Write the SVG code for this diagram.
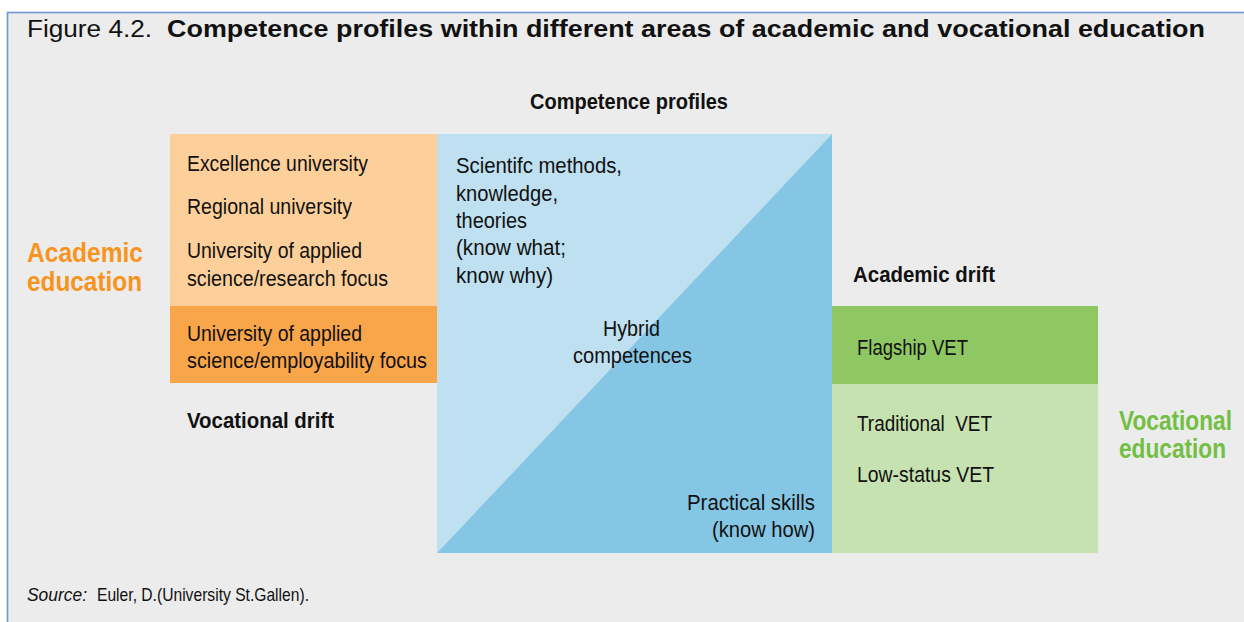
<svg xmlns="http://www.w3.org/2000/svg" width="1244" height="622" viewBox="0 0 1244 622">
  <style>
    text { font-family: "Liberation Sans", Arial, sans-serif; fill: #111; }
    .body { font-size: 22px; }
    .head { font-size: 22px; font-weight: bold; }
    .big { font-size: 28px; font-weight: bold; }
    .title { font-size: 23px; }
    .src { font-size: 19px; }
    .orange { fill: #f7941d; }
    .green { fill: #72bf44; }
  </style>

  <!-- page frame -->
  <rect x="0" y="0" width="1244" height="622" fill="#ffffff"/>
  <rect x="7.5" y="12.5" width="1250" height="620" fill="#ececec" stroke="#6b98d2" stroke-width="1.6"/>

  <!-- title -->
  <g id="title">
    <text class="title" x="27" y="37" textLength="125" lengthAdjust="spacingAndGlyphs">Figure 4.2.</text>
    <text class="title" x="167" y="37" font-weight="bold" textLength="1038" lengthAdjust="spacingAndGlyphs">Competence profiles within different areas of academic and vocational education</text>
  </g>

  <g id="profiles-heading">
    <text class="head" x="530" y="109" textLength="198" lengthAdjust="spacingAndGlyphs">Competence profiles</text>
  </g>

  <!-- academic side -->
  <g id="academic-label">
    <text class="big orange" x="27" y="262" textLength="116" lengthAdjust="spacingAndGlyphs">Academic</text>
    <text class="big orange" x="27" y="291" textLength="115" lengthAdjust="spacingAndGlyphs">education</text>
  </g>

  <g id="universities">
    <rect x="170" y="134" width="267" height="172" fill="#fdd09b"/>
    <text class="body" x="187" y="171" textLength="181" lengthAdjust="spacingAndGlyphs">Excellence university</text>
    <text class="body" x="187" y="214" textLength="165" lengthAdjust="spacingAndGlyphs">Regional university</text>
    <text class="body" x="187" y="258" textLength="175" lengthAdjust="spacingAndGlyphs">University of applied</text>
    <text class="body" x="187" y="286" textLength="201" lengthAdjust="spacingAndGlyphs">science/research focus</text>
  </g>

  <g id="employability">
    <rect x="170" y="306" width="267" height="77" fill="#f9a54a"/>
    <text class="body" x="187" y="341" textLength="175" lengthAdjust="spacingAndGlyphs">University of applied</text>
    <text class="body" x="187" y="368" textLength="240" lengthAdjust="spacingAndGlyphs">science/employability focus</text>
  </g>

  <g id="vocational-drift">
    <text class="head" x="187" y="428" textLength="147" lengthAdjust="spacingAndGlyphs">Vocational drift</text>
  </g>

  <!-- competence square split along the diagonal -->
  <g id="competences">
    <polygon points="437,134 832,134 437,553" fill="#bee0f0"/>
    <polygon points="832,134 832,553 437,553" fill="#86c6e5"/>
    <text class="body" x="456" y="173" textLength="166" lengthAdjust="spacingAndGlyphs">Scientifc methods,</text>
    <text class="body" x="456" y="201" textLength="102" lengthAdjust="spacingAndGlyphs">knowledge,</text>
    <text class="body" x="456" y="228" textLength="71" lengthAdjust="spacingAndGlyphs">theories</text>
    <text class="body" x="456" y="255" textLength="110" lengthAdjust="spacingAndGlyphs">(know what;</text>
    <text class="body" x="456" y="283" textLength="97" lengthAdjust="spacingAndGlyphs">know why)</text>
    <text class="body" x="603" y="336" textLength="57" lengthAdjust="spacingAndGlyphs">Hybrid</text>
    <text class="body" x="573" y="363" textLength="119" lengthAdjust="spacingAndGlyphs">competences</text>
    <text class="body" x="687" y="510" textLength="128" lengthAdjust="spacingAndGlyphs">Practical skills</text>
    <text class="body" x="712" y="537" textLength="103" lengthAdjust="spacingAndGlyphs">(know how)</text>
  </g>

  <!-- vocational side -->
  <g id="academic-drift">
    <text class="head" x="853" y="282" textLength="142" lengthAdjust="spacingAndGlyphs">Academic drift</text>
  </g>

  <g id="flagship-vet">
    <rect x="832" y="306" width="266" height="78" fill="#8fc863"/>
    <text class="body" x="857" y="355" textLength="111" lengthAdjust="spacingAndGlyphs">Flagship VET</text>
  </g>

  <g id="vet">
    <rect x="832" y="384" width="266" height="169" fill="#c6e2b0"/>
    <text class="body" x="857" y="431" textLength="135" lengthAdjust="spacingAndGlyphs" xml:space="preserve">Traditional  VET</text>
    <text class="body" x="857" y="482" textLength="137" lengthAdjust="spacingAndGlyphs">Low-status VET</text>
  </g>

  <!-- condensed by a horizontal scale so the label stays inside the page -->
  <g id="vocational-label">
    <text class="big green" transform="translate(1119,430) scale(0.81,1)">Vocational</text>
    <text class="big green" transform="translate(1119,458) scale(0.81,1)">education</text>
  </g>

  <g id="source">
    <text class="src" x="27" y="601" font-style="italic" textLength="60" lengthAdjust="spacingAndGlyphs">Source:</text>
    <text class="src" x="97" y="601" textLength="212" lengthAdjust="spacingAndGlyphs">Euler, D.(University St.Gallen).</text>
  </g>
</svg>
